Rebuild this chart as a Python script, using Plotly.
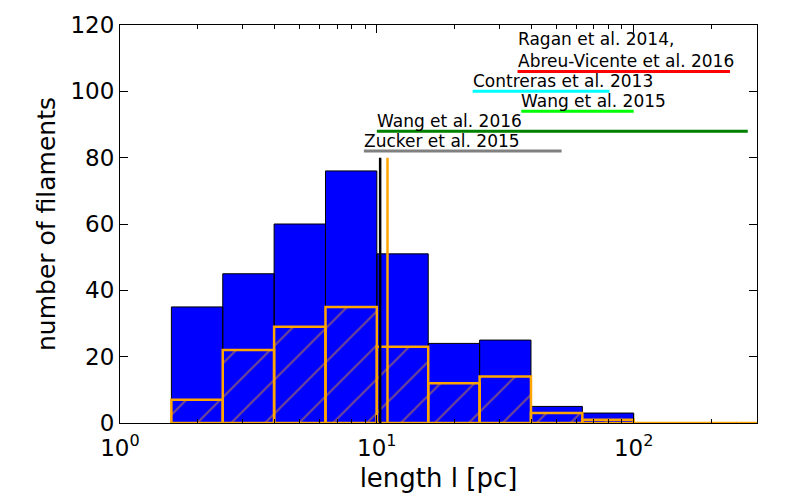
import math

import plotly.graph_objects as go

# histogram bins (pc), 0.2 dex wide
bin_edges = [1.585, 2.512, 3.981, 6.310, 10.0, 15.85, 25.12, 39.81, 63.10, 100.0, 158.5, 251.2, 398.1]
all_counts = [35, 45, 60, 76, 51, 24, 25, 5, 3, 0, 0, 0]
sub_counts = [7, 22, 29, 35, 23, 12, 14, 3, 1, 0, 0, 0]

# median markers
median_all = 10.3
median_sub = 11.0
median_height = 80

# literature length ranges
lit_names = ["Zucker et al. 2015", "Wang et al. 2016", "Wang et al. 2015",
             "Contreras et al. 2013", "Ragan et al. 2014,<br>Abreu-Vicente et al. 2016"]
lit_lo = [8.9, 10.0, 36.5, 23.6, 35.3]
lit_hi = [52.4, 278.0, 100.0, 80.5, 237.0]
lit_y = [82, 88, 94, 100, 106]
lit_colors = ["#808080", "#008000", "#00ff00", "#00ffff", "#ff0000"]

FONT = "DejaVu Sans"


def bar_paths(edges, counts):
    xs, ys = [], []
    for i, c in enumerate(counts):
        a, b = edges[i], edges[i + 1]
        xs += [a, a, b, b, a, None]
        ys += [0, c, c, 0, 0, None]
    return xs, ys


fig = go.Figure()

x, y = bar_paths(bin_edges, all_counts)
fig.add_trace(go.Scatter(x=x, y=y, mode="lines", fill="toself", fillcolor="#0000ff",
                         line=dict(color="black", width=1), hoverinfo="skip"))

x, y = bar_paths(bin_edges, sub_counts)
fig.add_trace(go.Scatter(x=x, y=y, mode="lines", fill="toself", fillcolor="rgba(0,0,0,0)",
                         fillpattern=dict(shape="/", fgcolor="orange", bgcolor="rgba(0,0,0,0)",
                                          size=24, solidity=0.08),
                         line=dict(color="orange", width=2.5), hoverinfo="skip"))

fig.add_trace(go.Scatter(x=[median_all, median_all], y=[0, median_height], mode="lines",
                         line=dict(color="black", width=2.5)))
fig.add_trace(go.Scatter(x=[median_sub, median_sub], y=[0, median_height], mode="lines",
                         line=dict(color="orange", width=2.5)))

for name, lo, hi, yy, col in zip(lit_names, lit_lo, lit_hi, lit_y, lit_colors):
    fig.add_trace(go.Scatter(x=[lo, hi], y=[yy, yy], mode="lines",
                             line=dict(color=col, width=3)))
    fig.add_annotation(x=math.log10(lo), y=yy, text=name, showarrow=False,
                       xanchor="left", yanchor="bottom", align="left", xshift=-2, yshift=-2,
                       font=dict(family=FONT, size=17, color="black"))

minor_vals = [m * d for d in (1, 10, 100) for m in range(2, 10)]

# page body adds an 8px offset, so margins are shifted to compensate
fig.update_layout(
    width=800, height=500,
    margin=dict(l=112, r=51, t=17, b=85, autoexpand=False),
    paper_bgcolor="white", plot_bgcolor="white",
    showlegend=False,
    font=dict(family=FONT, size=22, color="black"),
    xaxis=dict(
        type="log", range=[0, 2.48],
        tickvals=[1, 10, 100], ticktext=["10<sup>0</sup>", "10<sup>1</sup>", "10<sup>2</sup>"],
        ticks="inside", ticklen=8, tickcolor="black", ticklabelstandoff=4,
        tickfont=dict(family=FONT, size=23, color="black"),
        minor=dict(tickvals=minor_vals, ticks="inside", ticklen=4, tickcolor="black"),
        showline=True, linecolor="black", linewidth=1, mirror="ticks",
        showgrid=False, zeroline=False,
        title=dict(text="length l [pc]", standoff=9,
                   font=dict(family=FONT, size=26, color="black")),
    ),
    yaxis=dict(
        range=[0, 120], tickvals=[0, 20, 40, 60, 80, 100, 120],
        ticks="inside", ticklen=8, tickcolor="black",
        tickfont=dict(family=FONT, size=23, color="black"),
        showline=True, linecolor="black", linewidth=1, mirror="ticks",
        showgrid=False, zeroline=False,
        title=dict(text="number of filaments", standoff=7,
                   font=dict(family=FONT, size=25, color="black")),
    ),
)

fig.write_html("out.html")
